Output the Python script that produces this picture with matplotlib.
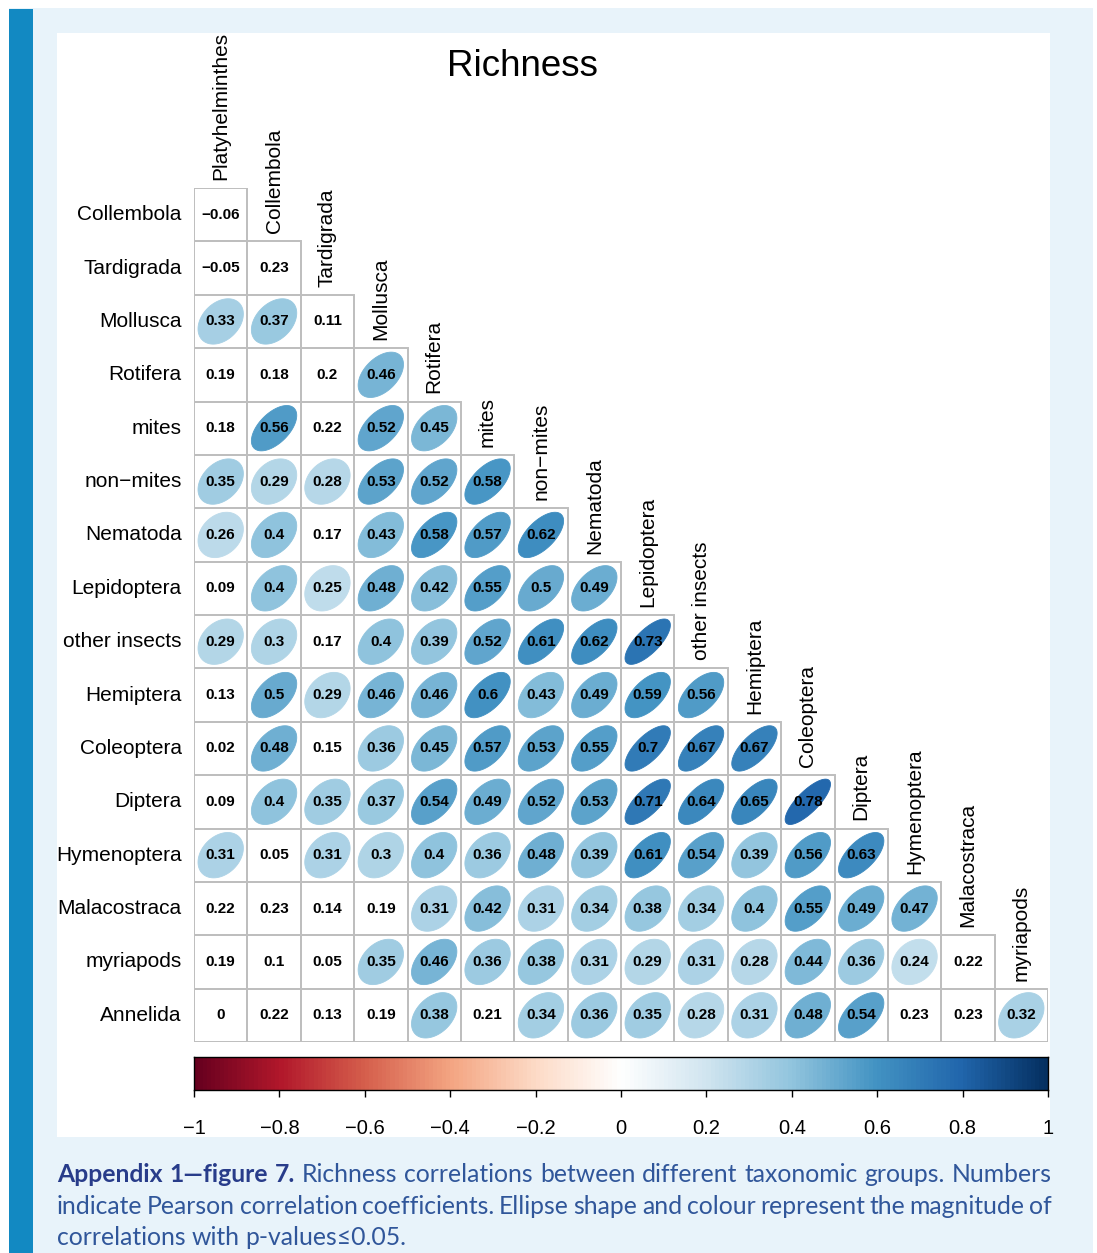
import numpy as np
import matplotlib
matplotlib.use("Agg")
import matplotlib.pyplot as plt
from matplotlib.colors import LinearSegmentedColormap
from matplotlib.patches import Rectangle, Polygon

W, H = 1097, 1253

groups = ["Platyhelminthes", "Collembola", "Tardigrada", "Mollusca", "Rotifera",
          "mites", "non\u2212mites", "Nematoda", "Lepidoptera", "other insects",
          "Hemiptera", "Coleoptera", "Diptera", "Hymenoptera", "Malacostraca",
          "myriapods", "Annelida"]
col_labels = groups[:-1]
row_labels = groups[1:]

# lower triangle, one list per row (row_labels order)
corr_rows = [
    [-0.06],
    [-0.05, 0.23],
    [0.33, 0.37, 0.11],
    [0.19, 0.18, 0.2, 0.46],
    [0.18, 0.56, 0.22, 0.52, 0.45],
    [0.35, 0.29, 0.28, 0.53, 0.52, 0.58],
    [0.26, 0.4, 0.17, 0.43, 0.58, 0.57, 0.62],
    [0.09, 0.4, 0.25, 0.48, 0.42, 0.55, 0.5, 0.49],
    [0.29, 0.3, 0.17, 0.4, 0.39, 0.52, 0.61, 0.62, 0.73],
    [0.13, 0.5, 0.29, 0.46, 0.46, 0.6, 0.43, 0.49, 0.59, 0.56],
    [0.02, 0.48, 0.15, 0.36, 0.45, 0.57, 0.53, 0.55, 0.7, 0.67, 0.67],
    [0.09, 0.4, 0.35, 0.37, 0.54, 0.49, 0.52, 0.53, 0.71, 0.64, 0.65, 0.78],
    [0.31, 0.05, 0.31, 0.3, 0.4, 0.36, 0.48, 0.39, 0.61, 0.54, 0.39, 0.56, 0.63],
    [0.22, 0.23, 0.14, 0.19, 0.31, 0.42, 0.31, 0.34, 0.38, 0.34, 0.4, 0.55, 0.49, 0.47],
    [0.19, 0.1, 0.05, 0.35, 0.46, 0.36, 0.38, 0.31, 0.29, 0.31, 0.28, 0.44, 0.36, 0.24, 0.22],
    [0, 0.22, 0.13, 0.19, 0.38, 0.21, 0.34, 0.36, 0.35, 0.28, 0.31, 0.48, 0.54, 0.23, 0.23, 0.32],
]

# 1 = p<=0.05 (ellipse drawn)
sig_rows = [
    [0],
    [0, 0],
    [1, 1, 0],
    [0, 0, 0, 1],
    [0, 1, 0, 1, 1],
    [1, 1, 1, 1, 1, 1],
    [1, 1, 0, 1, 1, 1, 1],
    [0, 1, 1, 1, 1, 1, 1, 1],
    [1, 1, 0, 1, 1, 1, 1, 1, 1],
    [0, 1, 1, 1, 1, 1, 1, 1, 1, 1],
    [0, 1, 0, 1, 1, 1, 1, 1, 1, 1, 1],
    [0, 1, 1, 1, 1, 1, 1, 1, 1, 1, 1, 1],
    [1, 0, 1, 1, 1, 1, 1, 1, 1, 1, 1, 1, 1],
    [0, 0, 0, 0, 1, 1, 1, 1, 1, 1, 1, 1, 1, 1],
    [0, 0, 0, 1, 1, 1, 1, 1, 1, 1, 1, 1, 1, 1, 0],
    [0, 0, 0, 0, 1, 0, 1, 1, 1, 1, 1, 1, 1, 0, 0, 1],
]

cbar_ticks = [-1, -0.8, -0.6, -0.4, -0.2, 0, 0.2, 0.4, 0.6, 0.8, 1]
cbar_labels = ["\u22121", "\u22120.8", "\u22120.6", "\u22120.4", "\u22120.2", "0",
               "0.2", "0.4", "0.6", "0.8", "1"]

palette = ["#67001F", "#B2182B", "#D6604D", "#F4A582", "#FDDBC7", "#FFFFFF",
           "#D1E5F0", "#92C5DE", "#4393C3", "#2166AC", "#053061"]
cmap = LinearSegmentedColormap.from_list("RdBu200", palette, N=200)

plt.rcParams['font.family'] = ['Liberation Sans', 'DejaVu Sans']

fig = plt.figure(figsize=(W / 100, H / 100), dpi=100)
fig.patch.set_facecolor("white")


def px_box(x0, y0, x1, y1):
    return [x0 / W, 1 - y1 / H, (x1 - x0) / W, (y1 - y0) / H]


def add_bg(x0, y0, x1, y1, color, z):
    b = px_box(x0, y0, x1, y1)
    fig.add_artist(Rectangle((b[0], b[1]), b[2], b[3], transform=fig.transFigure,
                             color=color, lw=0, zorder=z))


# page decoration
add_bg(9, 8, 1093, 1253, "#e8f3fa", -20)
add_bg(9, 9, 33, 1253, "#1289c2", -19)
add_bg(57, 33, 1050, 1137, "white", -18)


def ellipse_xy(rho, n=99):
    k = np.linspace(0, 2 * np.pi, n)
    d = np.arccos(rho)
    return 0.85 * np.cos(k + d / 2) / 2, 0.85 * np.cos(k - d / 2) / 2


def fmt(v):
    s = "%.2f" % v
    s = s.rstrip("0").rstrip(".")
    if s in ("", "-"):
        s = "0"
    return s.replace("-", "\u2212")


n = len(col_labels)
ax = fig.add_axes(px_box(194, 188, 1048, 1042))
ax.set_xlim(0, n)
ax.set_ylim(n, 0)
ax.axis("off")

for i, (vals, sigs) in enumerate(zip(corr_rows, sig_rows)):
    for j, (v, s) in enumerate(zip(vals, sigs)):
        ax.add_patch(Rectangle((j, i), 1, 1, fill=False, ec="#BEBEBE", lw=1.4, zorder=1))
        cx, cy = j + 0.5, i + 0.5
        if s:
            ex, ey = ellipse_xy(v)
            ax.add_patch(Polygon(np.column_stack([cx + ex, cy - ey]), closed=True,
                                 fc=cmap((v + 1) / 2), ec=cmap((v + 1) / 2), lw=0.6, zorder=2))
        ax.text(cx, cy, fmt(v), ha="center", va="center", fontsize=11,
                fontweight="bold", color="black", zorder=3)

for i, name in enumerate(row_labels):
    ax.text(-0.23, i + 0.5, name, ha="right", va="center", fontsize=15, clip_on=False)

for j, name in enumerate(col_labels):
    ax.text(j + 0.5, j - 0.15, name, ha="center", va="bottom", rotation=90,
            fontsize=15, clip_on=False)

fig.text(522 / W, 1 - 66 / H, "Richness", ha="center", va="center", fontsize=26.5)

# colour legend
cax = fig.add_axes(px_box(194, 1057, 1048, 1090))
cax.imshow(np.linspace(-1, 1, 200)[None, :], cmap=cmap, vmin=-1, vmax=1,
           extent=(-1, 1, 0, 1), aspect="auto", interpolation="nearest")
cax.set_xlim(-1, 1)
cax.set_yticks([])
cax.set_xticks(cbar_ticks)
cax.set_xticklabels(cbar_labels, fontsize=14.5)
cax.tick_params(axis="x", length=5, width=1, pad=16)
for sp in cax.spines.values():
    sp.set_linewidth(1)

# caption, justified
renderer = fig.canvas.get_renderer()
bold_c, reg_c = "#283c8a", "#30569a"
cap_size = 17.8
cap_lines = [
    ([("Appendix", True), ("1\u2014figure", True), ("7.", True)]
     + [(w, False) for w in "Richness correlations between different taxonomic groups. Numbers".split()], True, 1182),
    ([(w, False) for w in "indicate Pearson correlation coefficients. Ellipse shape and colour represent the magnitude of".split()], True, 1214),
    ([(w, False) for w in "correlations with p-values\u22640.05.".split()], False, 1245),
]
x_left, x_right = 57, 1052
for words, justify, ybase in cap_lines:
    arts = []
    for w, b in words:
        arts.append(fig.text(0, 1 - ybase / H, w, fontsize=cap_size, va="baseline",
                             family=["Lato", "DejaVu Sans"],
                             fontweight="bold" if b else "normal",
                             color=bold_c if b else reg_c))
    widths = [t.get_window_extent(renderer).width for t in arts]
    gap = (x_right - x_left - sum(widths)) / (len(arts) - 1) if justify else 6
    x = x_left
    for t, w in zip(arts, widths):
        t.set_x(x / W)
        x += w + gap

fig.savefig("out.png", dpi=100, facecolor=fig.get_facecolor())
